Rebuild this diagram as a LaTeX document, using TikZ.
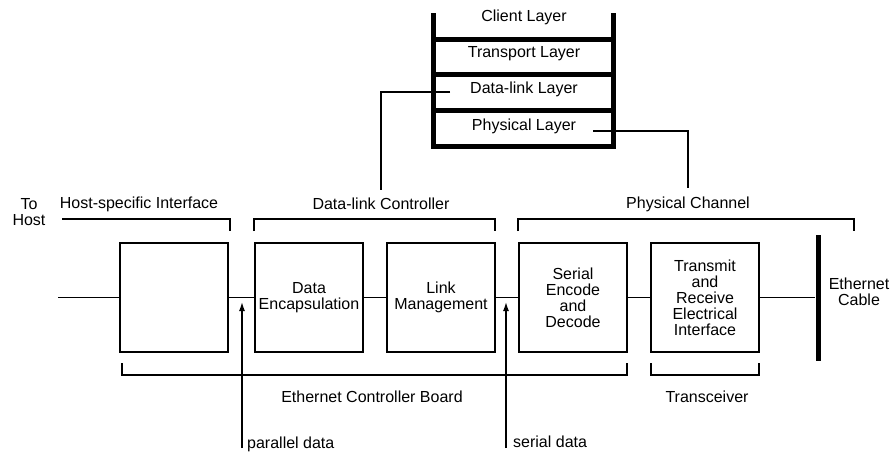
\documentclass[tikz,border=0pt]{standalone}
\usepackage{fontspec}
\setmainfont{Liberation Sans}
\usetikzlibrary{arrows.meta,calc,positioning}

\begin{document}
\begin{tikzpicture}[x=1pt,y=-1pt,every node/.style={font=\fontsize{16}{16}\selectfont,align=center,inner sep=0},
	blk/.style={draw,line width=1.4pt,minimum width=108pt,minimum height=109pt},
	wire/.style={line width=1.4pt},
	stackline/.style={line width=5pt}]
\useasboundingbox (0,0) rectangle (893,453);

% layer stack
\draw[stackline] (433,13) -- (433,146) -- (613,146) -- (613,13);
\foreach \yy in {39,74,110}
	\draw[stackline] (433,\yy) -- (613,\yy);
\node (cl) at (524,17) {Client Layer};
\node (tl) at (524,54) {Transport Layer};
\node (dll) at (524,89) {Data-link Layer};
\node (phl) at (524,126) {Physical Layer};

% labels above
\node (tohost) at (29,212) {To\\Host};
\node (hsil) at (139,204) {Host-specific Interface};
\node (dlc) at (381,204) {Data-link Controller};
\node (pch) at (688,204) {Physical Channel};

\draw[wire] (62,219) -- (230,219) -- (230,231);
\draw[wire] (254,231) -- (254,219) -- (495,219) -- (495,231);
\draw[wire] (518,231) -- (518,219) -- (854,219) -- (854,231);

\draw[wire] ([xshift=-20pt,yshift=-3pt]dll.west) -| ([yshift=8pt]dlc.north);
\draw[wire] ([xshift=17pt,yshift=-5pt]phl.east) -| ([yshift=8pt]pch.north);

% boxes
\node[blk] (hsi) at (174,297.5) {};
\node[blk] (de) at (309,297.5) {Data\\Encapsulation};
\node[blk] (lm) at (441,297.5) {Link\\Management};
\node[blk] (sed) at (573,297.5) {Serial\\Encode\\and\\Decode};
\node[blk] (trx) at (705,297.5) {Transmit\\and\\Receive\\Electrical\\Interface};
\node[fill,minimum width=5pt,minimum height=126pt] (cable) at (818,297.5) {};
\node (cablel) at (859,292) {Ethernet\\Cable};

\coordinate (hostend) at (58,297.5);
\draw[wire] (hostend) -- (hsi);
\draw[wire] (hsi) -- (de);
\draw[wire] (de) -- (lm);
\draw[wire] (lm) -- (sed);
\draw[wire] (sed) -- (trx);
\draw[wire] (trx) -- (cable);

% brackets below
\draw[wire] (122,363) -- (122,375) -- (627,375) -- (627,363);
\draw[wire] (651,363) -- (651,375) -- (759,375) -- (759,363);
\node (ecb) at (372,397) {Ethernet Controller Board};
\node (trl) at (707,397) {Transceiver};

% data taps
\coordinate (pdfoot) at (242,448);
\coordinate (pdtip) at (242,302);
\coordinate (sdfoot) at (506,448);
\coordinate (sdtip) at (506,302);
\draw[wire,-{Latex[length=9pt,width=6pt]}] (pdfoot) -- (pdtip);
\draw[wire,-{Latex[length=9pt,width=6pt]}] (sdfoot) -- (sdtip);
\node[anchor=west] (pd) at (247,444) {parallel data};
\node[anchor=west] (sd) at (513,442) {serial data};
\end{tikzpicture}
\end{document}
